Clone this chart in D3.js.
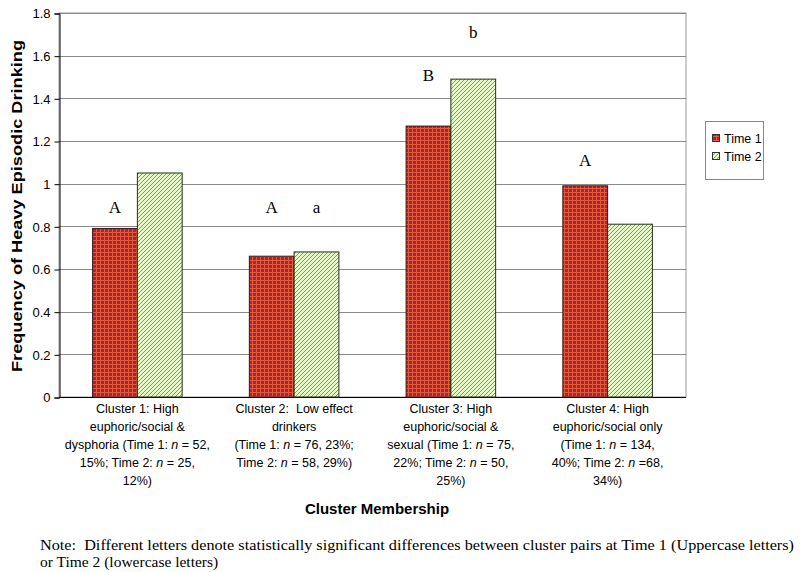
<!DOCTYPE html>
<html><head><meta charset="utf-8">
<script src="https://cdn.jsdelivr.net/npm/d3@7"></script>
<style>body{margin:0;background:#fff}svg{display:block}</style>
</head><body>
<script>
const categories = ["Cluster 1", "Cluster 2", "Cluster 3", "Cluster 4"];
const seriesNames = ["Time 1", "Time 2"];
const time1 = [0.79, 0.66, 1.27, 0.99];
const time2 = [1.05, 0.68, 1.49, 0.81];
const letters1 = ["A", "A", "B", "A"];
const letters2 = ["", "a", "b", ""];
const letterY1 = [0.89, 0.89, 1.51, 1.11];
const letterY2 = [null, 0.89, 1.71, null];
const catLabels = [
  ["Cluster 1: High", "euphoric/social &", "dysphoria (Time 1: |n| = 52,", "15%; Time 2: |n| = 25,", "12%)"],
  ["Cluster 2:\u00a0 Low effect", "drinkers", "(Time 1: |n| = 76, 23%;", "Time 2: |n| = 58, 29%)"],
  ["Cluster 3: High", "euphoric/social &", "sexual (Time 1: |n| = 75,", "22%; Time 2: |n| = 50,", "25%)"],
  ["Cluster 4: High", "euphoric/social only", "(Time 1: |n| = 134,", "40%; Time 2: |n| =68,", "34%)"]
];
const yTicks = [0, 0.2, 0.4, 0.6, 0.8, 1, 1.2, 1.4, 1.6, 1.8];
const yTitle = "Frequency of Heavy Episodic Drinking";
const xTitle = "Cluster Membership";
const noteLines = ["Note:\u00a0 Different letters denote statistically significant differences between cluster pairs at Time 1 (Uppercase letters)",
                   "or Time 2 (lowercase letters)"];

const W = 800, H = 572;
const L = 59, R = 686, T = 13, B = 397;
const svg = d3.select("body").append("svg").attr("width", W).attr("height", H);
const defs = svg.append("defs");
// red grid pattern
const p1 = defs.append("pattern").attr("id", "pRed").attr("patternUnits", "userSpaceOnUse")
  .attr("width", 4).attr("height", 4);
p1.append("rect").attr("width", 4).attr("height", 4).attr("fill", "#9c2264");
p1.append("rect").attr("x", 0).attr("y", 0).attr("width", 4).attr("height", 1).attr("fill", "#e65c2c");
p1.append("rect").attr("x", 0).attr("y", 0).attr("width", 1).attr("height", 4).attr("fill", "#e65c2c");
// green diagonal pattern
const p2 = defs.append("pattern").attr("id", "pGreen").attr("patternUnits", "userSpaceOnUse")
  .attr("width", 4).attr("height", 4);
p2.append("rect").attr("width", 4).attr("height", 4).attr("fill", "#e6f7c8");
p2.append("path").attr("d", "M-1,5 L5,-1 M-1,1 L1,-1 M3,5 L5,3").attr("stroke", "#72a848").attr("stroke-width", 1);

const x0 = d3.scaleBand().domain(categories).range([L, R]).paddingInner(0.4286).paddingOuter(0.2143);
const x1 = d3.scaleBand().domain(seriesNames).range([0, x0.bandwidth()]);
const y = d3.scaleLinear().domain([0, 1.8]).range([B, T]);

// plot border
svg.append("rect").attr("x", L).attr("y", T).attr("width", R - L).attr("height", B - T)
  .attr("fill", "none").attr("stroke", "#999").attr("stroke-width", 1);
// gridlines
svg.append("g").selectAll("line").data(yTicks.filter(d => d > 0)).join("line")
  .attr("x1", L).attr("x2", R).attr("y1", d => Math.round(y(d)) + 0.5).attr("y2", d => Math.round(y(d)) + 0.5)
  .attr("stroke", "#8a8a8a").attr("stroke-width", 1);

// y axis
const yAxis = d3.axisLeft(y).tickValues(yTicks).tickFormat(d => String(d)).tickSize(5).tickPadding(4);
const ga = svg.append("g").attr("transform", `translate(${L + 0.5},0.5)`).call(yAxis);
ga.select(".domain").attr("stroke", "#000");
ga.selectAll(".tick line").attr("stroke", "#000");
ga.selectAll("text").attr("font-family", "Arial, 'Liberation Sans', sans-serif").attr("font-size", 13).attr("fill", "#000");
// x axis line
svg.append("line").attr("x1", L).attr("x2", R).attr("y1", B + 0.5).attr("y2", B + 0.5).attr("stroke", "#000");

// bars
const vals = [time1, time2];
const fills = ["url(#pRed)", "url(#pGreen)"];
const strokes = ["#3a1418", "#22321a"];
seriesNames.forEach((s, si) => {
  svg.append("g").selectAll("rect").data(categories).join("rect")
    .attr("x", c => x0(c) + x1(s))
    .attr("y", (c, i) => y(vals[si][i]))
    .attr("width", x1.bandwidth())
    .attr("height", (c, i) => B - y(vals[si][i]))
    .attr("fill", fills[si]).attr("stroke", strokes[si]).attr("stroke-width", 1);
});

// letters
const serif = "'Times New Roman', 'Liberation Serif', serif";
categories.forEach((c, i) => {
  if (letters1[i]) svg.append("text").attr("x", x0(c) + x1("Time 1") + x1.bandwidth() / 2).attr("y", y(letterY1[i]) + 6)
    .attr("text-anchor", "middle").attr("font-family", serif).attr("font-size", 17).text(letters1[i]);
  if (letters2[i]) svg.append("text").attr("x", x0(c) + x1("Time 2") + x1.bandwidth() / 2).attr("y", y(letterY2[i]) + 6)
    .attr("text-anchor", "middle").attr("font-family", serif).attr("font-size", 17).text(letters2[i]);
});

// category labels
const sans = "Arial, 'Liberation Sans', sans-serif";
categories.forEach((c, i) => {
  const cx = x0(c) + x0.bandwidth() / 2;
  const t = svg.append("text").attr("font-family", sans).attr("font-size", 12.5).attr("text-anchor", "middle").attr("fill", "#000");
  catLabels[i].forEach((line, li) => {
    const ts = t.append("tspan").attr("x", cx).attr("y", 413 + li * 18);
    line.split("|").forEach((part, pi) => {
      ts.append("tspan").attr("font-style", part === "n" && pi % 2 === 1 ? "italic" : null).text(part);
    });
  });
});

// axis titles
svg.append("text").attr("x", 377).attr("y", 514).attr("text-anchor", "middle")
  .attr("font-family", sans).attr("font-weight", "bold").attr("font-size", 15).text(xTitle);
svg.append("text").attr("transform", `translate(22,${(T + B) / 2 + 1}) rotate(-90)`).attr("text-anchor", "middle")
  .attr("font-family", sans).attr("font-weight", "bold").attr("font-size", 15)
  .attr("textLength", 332).attr("lengthAdjust", "spacingAndGlyphs").text(yTitle);

// legend
const lg = svg.append("g");
lg.append("rect").attr("x", 705.5).attr("y", 121.5).attr("width", 58).attr("height", 58).attr("fill", "#fff").attr("stroke", "#888");
seriesNames.forEach((s, i) => {
  const yy = 138 + i * 18;
  lg.append("rect").attr("x", 712.5).attr("y", yy - 3.5).attr("width", 7).attr("height", 7).attr("fill", fills[i]).attr("stroke", "#333");
  lg.append("text").attr("x", 724).attr("y", yy + 4.5).attr("font-family", sans).attr("font-size", 12.5).text(s);
});

// note
noteLines.forEach((line, i) => {
  const t = svg.append("text").attr("x", 40).attr("y", 550 + i * 17).attr("font-family", serif).attr("font-size", 15.5).text(line);
  if (i === 0) t.attr("textLength", 754).attr("lengthAdjust", "spacingAndGlyphs");
});
</script>
</body></html>
